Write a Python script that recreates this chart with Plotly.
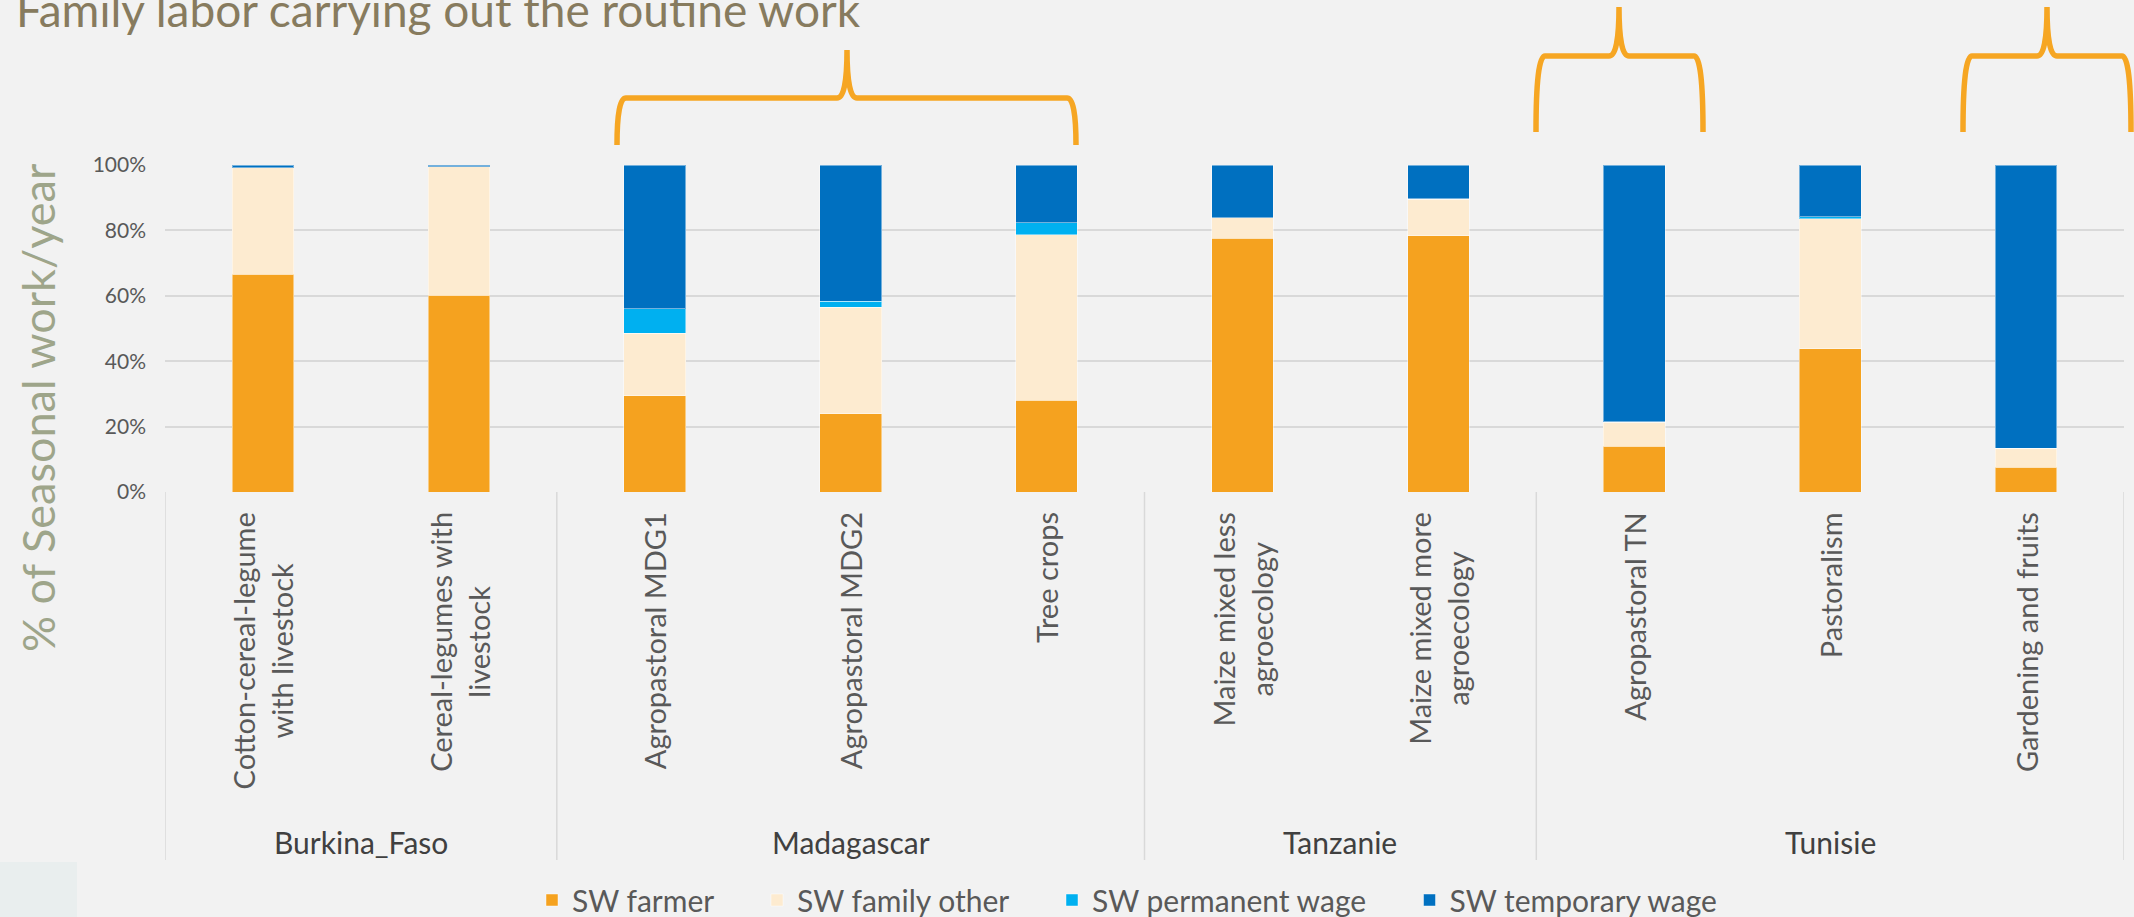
import plotly.graph_objects as go

# ---------------- data ----------------
countries = ["Burkina_Faso", "Madagascar", "Tanzanie", "Tunisie"]
country_sizes = [2, 3, 2, 3]
categories = [
    "Cotton-cereal-legume with livestock",
    "Cereal-legumes with livestock",
    "Agropastoral MDG1",
    "Agropastoral MDG2",
    "Tree crops",
    "Maize mixed less agroecology",
    "Maize mixed more agroecology",
    "Agropastoral TN",
    "Pastoralism",
    "Gardening and fruits",
]
category_labels = [
    "Cotton-cereal-legume<br>with livestock",
    "Cereal-legumes with<br>livestock",
    "Agropastoral MDG1",
    "Agropastoral MDG2",
    "Tree crops",
    "Maize mixed less<br>agroecology",
    "Maize mixed more<br>agroecology",
    "Agropastoral TN",
    "Pastoralism",
    "Gardening and fruits",
]
sw_farmer = [66.6, 60.1, 29.5, 23.9, 28.0, 77.6, 78.3, 14.0, 43.8, 7.5]
sw_family_other = [32.6, 39.3, 19.0, 32.6, 50.7, 6.2, 11.2, 7.3, 39.8, 5.9]
sw_permanent_wage = [0.0, 0.0, 7.5, 1.9, 3.6, 0.0, 0.2, 0.2, 0.5, 0.0]
sw_temporary_wage = [0.8, 0.6, 44.0, 41.6, 17.7, 16.2, 10.3, 78.5, 15.9, 86.6]
series_names = ["SW farmer", "SW family other", "SW permanent wage", "SW temporary wage"]
series_colors = ["#F5A21F", "#FDEBD0", "#00B0F0", "#0070C0"]
y_tick_values = [0, 20, 40, 60, 80, 100]
y_tick_labels = ["0%", "20%", "40%", "60%", "80%", "100%"]
title_text = "Family labor carrying out the routine work"
y_title_text = "% of Seasonal work/year"

# ---------------- layout geometry ----------------
W, H = 2134, 917
ML, MR, MT, MB = 165, 10, 165, 425
PW = W - ML - MR
PH = H - MT - MB
BASE = H - MB


def px(x):
    return (x - ML) / PW


def py(y):
    return (BASE - y) / PH


fig = go.Figure()
series_values = [sw_farmer, sw_family_other, sw_permanent_wage, sw_temporary_wage]
pad = "\u00a0" * 5
for name, vals, col in zip(series_names, series_values, series_colors):
    fig.add_trace(go.Bar(
        x=categories, y=vals, name=name + pad,
        marker=dict(color=col, line=dict(width=1, color="rgba(255,255,255,0.45)")),
        hoverinfo="skip",
    ))

annotations = []
# category labels (rotated)
for i, lab in enumerate(category_labels):
    annotations.append(dict(
        x=i, xref="x", y=py(510), yref="paper", yanchor="top", xanchor="center",
        text=lab, textangle=-90, align="center", showarrow=False,
        font=dict(family="Lato", size=29, color="#595959"),
    ))
# group labels and separators
shapes = []
start = 0
for c, n in zip(countries, country_sizes):
    annotations.append(dict(
        x=start + (n - 1) / 2, xref="x", y=py(842), yref="paper",
        yanchor="middle", xanchor="center", text=c, showarrow=False,
        font=dict(family="Lato", size=30, color="#404040"),
    ))
    start += n
sep = [-0.5]
acc = -0.5
for n in country_sizes:
    acc += n
    sep.append(acc)
for s in sep:
    shapes.append(dict(type="line", xref="x", yref="paper", x0=s, x1=s,
                       y0=0, y1=py(860), line=dict(color="#D9D9D9", width=1.5)))

# title and y-axis title
annotations.append(dict(
    x=px(14), xref="paper", xanchor="left", y=py(9), yref="paper", yanchor="middle",
    text=title_text, showarrow=False,
    font=dict(family="Lato", size=46, color="#877B5E"),
))
annotations.append(dict(
    x=px(38), xref="paper", xanchor="center", y=py(408), yref="paper", yanchor="middle",
    text=y_title_text, textangle=-90, showarrow=False,
    font=dict(family="Lato", size=45, color="#9EA58A"),
))


# braces
def brace(L, R, T, ty, hy, by):
    pts = [
        f"M{px(L)},{py(by)}",
        f"Q{px(L)},{py(hy)} {px(L + 9)},{py(hy)}",
        f"L{px(T - 10)},{py(hy)}",
        f"Q{px(T)},{py(hy)} {px(T)},{py(ty)}",
        f"Q{px(T)},{py(hy)} {px(T + 10)},{py(hy)}",
        f"L{px(R - 9)},{py(hy)}",
        f"Q{px(R)},{py(hy)} {px(R)},{py(by)}",
    ]
    return dict(type="path", xref="paper", yref="paper", path=" ".join(pts),
                line=dict(color="#F6A623", width=5.5))


shapes.append(brace(617, 1076, 847, 50, 98, 145))
shapes.append(brace(1536, 1703, 1619, 7, 56, 132))
shapes.append(brace(1963, 2131, 2047, 7, 56, 132))

# bottom-left light rectangle
shapes.append(dict(type="rect", xref="paper", yref="paper", x0=px(0), x1=px(77),
                   y0=py(862), y1=py(917), fillcolor="#E9EEEE", line=dict(width=0),
                   layer="below"))

fig.update_layout(
    width=W, height=H,
    margin=dict(l=ML, r=MR, t=MT, b=MB, autoexpand=False),
    paper_bgcolor="#F2F2F2", plot_bgcolor="#F2F2F2",
    barmode="stack", bargap=0.685,
    showlegend=True,
    legend=dict(orientation="h", x=px(532), xanchor="left", y=py(900), yanchor="middle",
                font=dict(family="Lato", size=30, color="#595959"),
                bgcolor="rgba(0,0,0,0)", traceorder="normal"),
    xaxis=dict(type="category", categoryarray=categories, categoryorder="array",
               range=[-0.5, 9.5], showticklabels=False, showgrid=False,
               showline=False, zeroline=False, ticks=""),
    yaxis=dict(range=[0, 100], tickvals=y_tick_values, ticktext=y_tick_labels,
               showgrid=True, gridcolor="#D9D9D9", gridwidth=1.5, zeroline=False,
               showline=False, ticks="", ticklabelstandoff=18,
               tickfont=dict(family="Lato", size=21, color="#595959")),
    annotations=annotations,
    shapes=shapes,
    font=dict(family="Lato"),
)

fig.write_html(
    "out.html",
    config={"displayModeBar": False},
    post_script="document.body.style.margin='0px'; document.body.style.overflow='hidden';",
)
